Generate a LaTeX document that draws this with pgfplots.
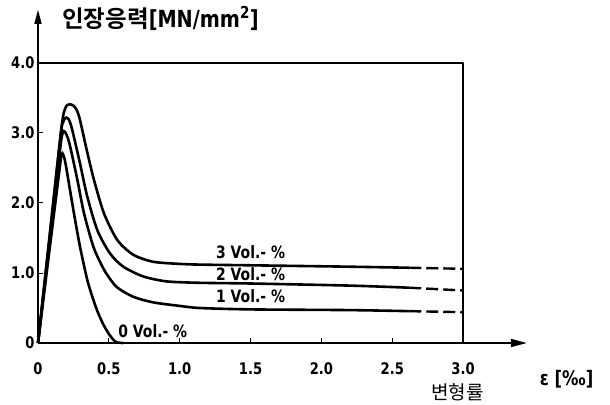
\documentclass[border=0pt]{standalone}
\usepackage{pgfplots}
\pgfplotsset{compat=1.18}
\usetikzlibrary{arrows.meta}
\usepackage{fontspec}
\setmainfont{DejaVu Sans}
\newfontfamily\lab{DejaVu Sans}[FakeStretch=0.82]
\newfontfamily\kr{Noto Sans CJK KR}[BoldFont={Noto Sans CJK KR Bold}]
\begin{document}
\begin{tikzpicture}
\useasboundingbox (-38bp,-62bp) rectangle (572bp,343bp);
\begin{axis}[
  at={(0,0)}, anchor=south west,
  x=141.7bp, y=70bp,
  xmin=0, xmax=3.45, ymin=0, ymax=4.76,
  axis lines=left,
  axis line style={line width=1.6bp},
  x axis line style={-{Triangle[length=16bp,width=8bp]}},
  y axis line style={-{Triangle[length=14bp,width=7bp]}},
  clip=false,
  xtick={0,0.5,1,1.5,2,2.5,3},
  xticklabels={0,0.5,1.0,1.5,2.0,2.5,3.0},
  ytick={0,1,2,3,4},
  yticklabels={0,1.0,2.0,3.0,4.0},
  tick align=inside,
  major tick length=5bp,
  tick style={line width=1bp, black},
  ticklabel style={font=\lab\bfseries\fontsize{16bp}{16bp}\selectfont},
  xticklabel style={yshift=-16bp},
  /pgf/number format/assume math mode=true,
]
% frame
\addplot[line width=2.2bp, line join=round] coordinates {(0,4)(3,4)(3,0)};
% 0 Vol.-%
\addplot[line width=2.6bp, smooth, tension=0.45] coordinates {
(0,0)(0.08,1.31)(0.15,2.45)(0.163,2.66)(0.172,2.71)(0.185,2.65)(0.20,2.5)(0.214,2.33)
(0.254,1.85)(0.296,1.38)(0.348,0.90)(0.39,0.62)(0.426,0.42)(0.465,0.25)(0.50,0.13)
(0.53,0.05)(0.555,0.01)(0.6,0)};
% 1 Vol.-%
\addplot[line width=2.6bp, smooth, tension=0.45] coordinates {
(0,0)(0.08,1.42)(0.155,2.75)(0.168,2.95)(0.179,3.03)(0.195,3.0)(0.212,2.92)(0.23,2.78)
(0.278,2.33)(0.325,1.85)(0.39,1.38)(0.44,1.15)(0.48,1.0)(0.555,0.80)(0.673,0.66)
(0.814,0.58)(1.0,0.53)(1.14,0.50)(1.5,0.48)(2.2,0.47)(2.62,0.455)};
\addplot[line width=2.4bp, dash pattern=on 12bp off 5bp] coordinates {(2.62,0.455)(3.0,0.44)};
% 2 Vol.-%
\addplot[line width=2.6bp, smooth, tension=0.45] coordinates {
(0,0)(0.08,1.49)(0.16,2.98)(0.175,3.14)(0.19,3.21)(0.20,3.22)(0.215,3.2)(0.23,3.13)
(0.247,3.0)(0.296,2.57)(0.348,2.09)(0.419,1.61)(0.508,1.28)(0.602,1.09)(0.744,0.95)
(0.908,0.88)(1.14,0.86)(1.5,0.85)(2.2,0.82)(2.62,0.79)};
\addplot[line width=2.4bp, dash pattern=on 12bp off 5bp] coordinates {(2.62,0.79)(3.0,0.75)};
% 3 Vol.-%
\addplot[line width=2.6bp, smooth, tension=0.45] coordinates {
(0,0)(0.08,1.48)(0.167,3.09)(0.19,3.34)(0.207,3.40)(0.226,3.41)(0.25,3.39)(0.273,3.33)
(0.296,3.19)(0.339,2.80)(0.395,2.33)(0.466,1.85)(0.56,1.47)(0.673,1.26)(0.814,1.16)
(1.0,1.13)(1.14,1.12)(1.5,1.11)(2.2,1.09)(2.62,1.075)};
\addplot[line width=2.4bp, dash pattern=on 12bp off 5bp] coordinates {(2.62,1.075)(3.0,1.06)};
% labels
\node[font=\lab\bfseries\fontsize{17bp}{17bp}\selectfont] at (axis cs:1.50,1.30) {3 Vol.- \%};
\node[font=\lab\bfseries\fontsize{17bp}{17bp}\selectfont] at (axis cs:1.50,0.98) {2 Vol.- \%};
\node[font=\lab\bfseries\fontsize{17bp}{17bp}\selectfont] at (axis cs:1.50,0.67) {1 Vol.- \%};
\node[font=\lab\bfseries\fontsize{17bp}{17bp}\selectfont] at (axis cs:0.81,0.17) {0 Vol.- \%};
\node[anchor=west, inner sep=0pt] at (axis cs:0.17,4.64)
  {\kr\bfseries\fontsize{23.5bp}{23.5bp}\selectfont 인장응력{\lab[MN/mm\textsuperscript{2}]}};
\node[font=\lab\bfseries\fontsize{20bp}{20bp}\selectfont] at (axis cs:3.73,-0.52) {ε [‰]};
\node[font=\kr\fontsize{19bp}{19bp}\selectfont] at (axis cs:2.96,-0.70) {변형률};
\end{axis}
\end{tikzpicture}
\end{document}
